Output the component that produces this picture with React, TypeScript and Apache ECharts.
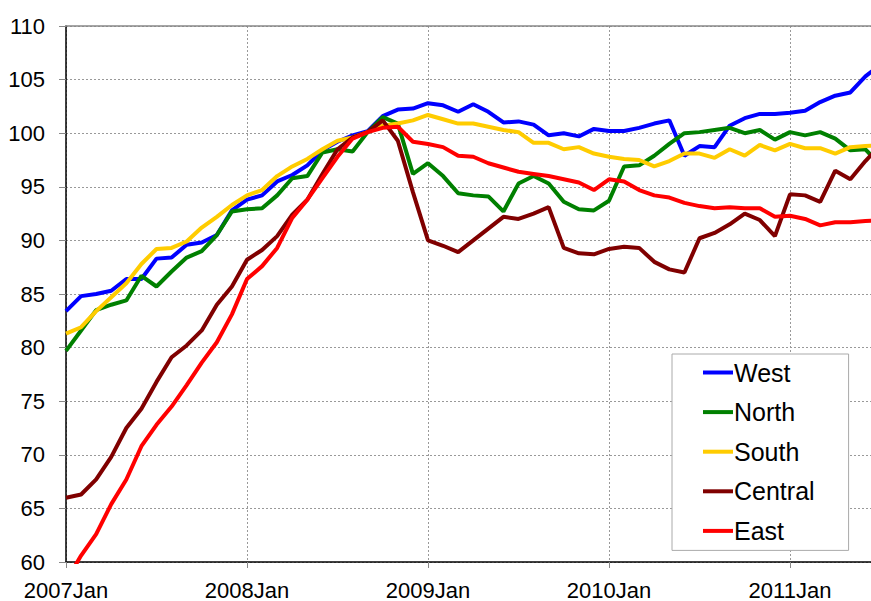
import React, { useEffect, useRef } from "react";
import * as echarts from "echarts";

const tickLabels = ["2007Jan", "2008Jan", "2009Jan", "2010Jan", "2011Jan"];
const seriesNames = ["West", "North", "South", "Central", "East"];
const seriesColors = ["#0000FF", "#008000", "#FFCC00", "#800000", "#FF0000"];

// monthly values from 2007 Jan (index 0)
const west = [
  83.4, 84.8, 85.0, 85.3, 86.4, 86.4, 88.3, 88.4, 89.6, 89.8, 90.5, 92.8,
  93.8, 94.2, 95.5, 96.1, 97.0, 98.4, 99.2, 99.8, 100.2, 101.6, 102.2, 102.3,
  102.8, 102.6, 102.0, 102.7, 102.0, 101.0, 101.1, 100.8, 99.8, 100.0, 99.7, 100.4,
  100.2, 100.2, 100.5, 100.9, 101.2, 97.9, 98.8, 98.7, 100.7, 101.4, 101.8, 101.8,
  101.9, 102.1, 102.9, 103.5, 103.8, 105.3, 106.4,
];
const north = [
  79.7, 81.6, 83.5, 84.0, 84.4, 86.7, 85.7, 87.1, 88.4, 89.0, 90.5, 92.7,
  92.9, 93.0, 94.2, 95.8, 96.0, 98.2, 98.5, 98.3, 100.1, 101.5, 100.9, 96.2,
  97.2, 96.0, 94.4, 94.2, 94.1, 92.7, 95.3, 96.0, 95.3, 93.6, 92.9, 92.8,
  93.7, 96.9, 97.0, 97.9, 99.0, 100.0, 100.1, 100.3, 100.5, 100.0, 100.3, 99.4,
  100.1, 99.8, 100.1, 99.5, 98.4, 98.5, 97.0,
];
const south = [
  81.3, 81.9, 83.4, 84.7, 86.0, 87.8, 89.2, 89.3, 89.9, 91.2, 92.2, 93.3,
  94.2, 94.7, 96.0, 96.9, 97.6, 98.5, 99.3, 99.6, 100.1, 100.7, 100.9, 101.2,
  101.7, 101.3, 100.9, 100.9, 100.6, 100.3, 100.1, 99.1, 99.1, 98.5, 98.7, 98.1,
  97.8, 97.6, 97.5, 96.9, 97.4, 98.1, 98.1, 97.7, 98.5, 97.9, 98.9, 98.4,
  99.0, 98.6, 98.6, 98.1, 98.7, 98.8, 98.9,
];
const central = [
  66.0, 66.3, 67.7, 69.8, 72.5, 74.3, 76.8, 79.1, 80.2, 81.6, 84.0, 85.7,
  88.2, 89.1, 90.4, 92.4, 93.8, 96.2, 98.5, 99.6, 100.1, 101.2, 99.3, 94.5,
  90.0, 89.5, 88.9, 90.0, 91.1, 92.2, 92.0, 92.5, 93.1, 89.3, 88.8, 88.7,
  89.2, 89.4, 89.3, 88.0, 87.3, 87.0, 90.2, 90.7, 91.5, 92.5, 91.9, 90.4,
  94.3, 94.2, 93.6, 96.5, 95.7, 97.4, 98.9,
];
const east = [
  58.2, 60.6, 62.6, 65.4, 67.7, 70.8, 72.8, 74.5, 76.5, 78.6, 80.5, 83.1,
  86.4, 87.6, 89.3, 92.1, 93.8, 95.8, 97.8, 99.5, 100.1, 100.5, 100.6, 99.2,
  99.0, 98.7, 97.9, 97.8, 97.2, 96.8, 96.4, 96.2, 96.0, 95.7, 95.4, 94.7,
  95.7, 95.5, 94.7, 94.2, 94.0, 93.5, 93.2, 93.0, 93.1, 93.0, 93.0, 92.2,
  92.3, 92.0, 91.4, 91.7, 91.7, 91.8, 91.9,
];

const allSeries = [west, north, south, central, east];

const FONT = "'Liberation Sans', Arial, sans-serif";

export default function App() {
  const ref = useRef<HTMLDivElement>(null);

  useEffect(() => {
    if (!ref.current) return;
    const chart = echarts.init(ref.current, null, { renderer: "svg" });
    const xMax = 53.37;
    const gridLine = { show: true, lineStyle: { color: "#999", type: [2, 2], width: 1 } };
    chart.setOption({
      animation: false,
      backgroundColor: "#fff",
      grid: { left: 66, right: 0, top: 26, bottom: 35, containLabel: false },
      xAxis: [
        {
          type: "value",
          min: 0,
          max: xMax,
          interval: 12,
          axisLine: { show: true, onZero: false, lineStyle: { color: "#000", width: 1.5 } },
          axisTick: { show: true, length: 6, lineStyle: { color: "#888" } },
          splitLine: gridLine,
          axisLabel: {
            show: true,
            margin: 17,
            fontSize: 22,
            fontFamily: FONT,
            color: "#000",
            showMaxLabel: false,
            formatter: (v: number) => {
              const k = Math.round(v);
              return Math.abs(v - k) < 1e-6 && k % 12 === 0 ? tickLabels[k / 12] ?? "" : "";
            },
          },
        },
        {
          type: "value",
          position: "top",
          min: 0,
          max: xMax,
          axisLine: { show: true, onZero: false, lineStyle: { color: "#888", width: 1.5 } },
          axisTick: { show: false },
          axisLabel: { show: false },
          splitLine: { show: false },
        },
      ],
      yAxis: {
        type: "value",
        min: 60,
        max: 110,
        interval: 5,
        axisLine: { show: true, onZero: false, lineStyle: { color: "#000", width: 1.5 } },
        axisTick: { show: true, length: 7, lineStyle: { color: "#888" } },
        splitLine: gridLine,
        axisLabel: { margin: 21, fontSize: 22, fontFamily: FONT, color: "#000" },
      },
      legend: {
        orient: "vertical",
        left: 672,
        top: 354,
        padding: [6, 34, 7, 31],
        itemGap: 14.6,
        itemWidth: 30,
        itemHeight: 4,
        icon: "rect",
        backgroundColor: "#fff",
        borderColor: "#aaa",
        borderWidth: 1,
        textStyle: { fontSize: 25, fontFamily: FONT, color: "#000", padding: [0, 0, 0, -4] },
        data: seriesNames,
      },
      series: seriesNames.map((name, si) => ({
        name,
        type: "line",
        xAxisIndex: 0,
        symbol: "none",
        showSymbol: false,
        clip: true,
        color: seriesColors[si],
        itemStyle: { color: seriesColors[si] },
        lineStyle: { color: seriesColors[si], width: 4 },
        data: allSeries[si].map((v, i) => [i, v]),
      })),
    });
    return () => chart.dispose();
  }, []);

  return (
    <div
      ref={ref}
      style={{ position: "fixed", left: 0, top: 0, width: 871, height: 601 }}
    />
  );
}
